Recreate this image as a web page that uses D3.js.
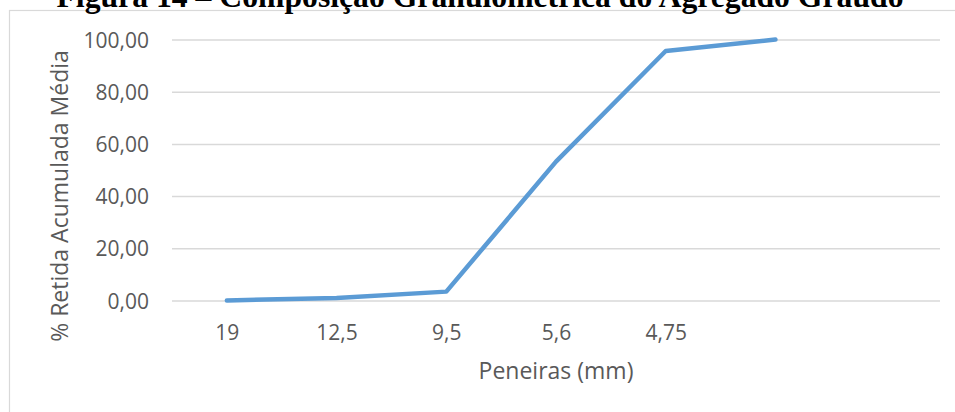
<!DOCTYPE html>
<html>
<head>
<meta charset="utf-8">
<script src="https://cdn.jsdelivr.net/npm/d3@7"></script>
<style>
  body { margin: 0; background: #fff; }
  svg { display: block; }
  .tickText text { font-family: "Open Sans", sans-serif; font-size: 21px; fill: #595959; }
  .axisTitle { font-family: "Open Sans", sans-serif; font-size: 23px; fill: #595959; }
  .chartTitle { font-family: "Liberation Serif", "Times New Roman", serif; font-weight: bold; font-size: 31.7px; fill: #000; }
</style>
</head>
<body>
<div id="graphicContainer"></div>
<script>
// peneiras (mm) - the last two categories have no label
var sieves = ["19", "12,5", "9,5", "5,6", "4,75", "", ""]
// % retida acumulada media
var retained = [0, 1.0, 3.4, 53.2, 95.6, 100]
var yTicks = [0, 20, 40, 60, 80, 100]

var width = 955
var height = 412
var margin = { top: 39.5, right: 15, bottom: 111.5, left: 172 }
var plotW = width - margin.left - margin.right
var plotH = height - margin.top - margin.bottom

var svg = d3.select("#graphicContainer").append("svg")
  .attr("width", width)
  .attr("height", height)

// chart area border (runs off the right and bottom edges)
svg.append("rect")
  .attr("x", 9.5)
  .attr("y", 10.5)
  .attr("width", 980)
  .attr("height", 430)
  .attr("fill", "none")
  .attr("stroke", "#d9d9d9")
  .attr("stroke-width", 1.2)

svg.append("text")
  .attr("class", "chartTitle")
  .attr("x", 480)
  .attr("y", 7)
  .attr("text-anchor", "middle")
  .text("Figura 14 – Composição Granulométrica do Agregado Graúdo")

var features = svg.append("g").attr("transform", "translate(" + margin.left + "," + margin.top + ")")

var x = d3.scalePoint().domain(d3.range(sieves.length)).range([0, plotW]).padding(0.5)
var y = d3.scaleLinear().domain([0, 100]).range([plotH, 0])

// gridlines
features.append("g")
  .attr("class", "grid")
  .call(d3.axisLeft(y).tickValues(yTicks).tickSize(-plotW).tickFormat(""))
  .call(g => g.select(".domain").remove())
  .call(g => g.selectAll("line").attr("stroke", "#d9d9d9").attr("stroke-width", 1.5))

// y labels
features.append("g")
  .attr("class", "tickText")
  .attr("transform", "translate(-23,0)")
  .call(d3.axisLeft(y).tickValues(yTicks).tickSize(0).tickPadding(0)
    .tickFormat(d => d.toFixed(2).replace(".", ",")))
  .call(g => g.select(".domain").remove())
  .call(g => g.selectAll("text").attr("dy", "0.36em"))

// x labels
features.append("g")
  .attr("class", "tickText")
  .attr("transform", "translate(0," + plotH + ")")
  .call(d3.axisBottom(x).tickSize(0).tickFormat(i => sieves[i]))
  .call(g => g.select(".domain").remove())
  .call(g => g.selectAll("text").attr("y", 39.5).attr("dy", 0))

var line = d3.line()
  .x((d, i) => x(i))
  .y(d => y(d))

features.append("path")
  .datum(retained)
  .attr("fill", "none")
  .attr("stroke", "#5b9bd5")
  .attr("stroke-width", 4.5)
  .attr("stroke-linejoin", "round")
  .attr("stroke-linecap", "round")
  .attr("d", line)

svg.append("text")
  .attr("class", "axisTitle")
  .attr("text-anchor", "middle")
  .attr("transform", "translate(68,196) rotate(-90)")
  .text("% Retida Acumulada Média")

svg.append("text")
  .attr("class", "axisTitle")
  .attr("text-anchor", "middle")
  .attr("x", 556)
  .attr("y", 379)
  .text("Peneiras (mm)")
</script>
</body>
</html>
